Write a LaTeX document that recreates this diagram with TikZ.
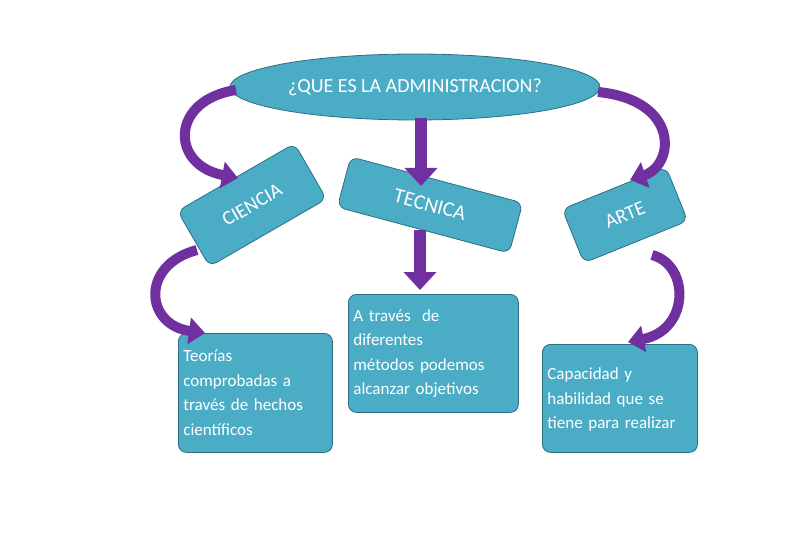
\documentclass[tikz,border=0pt]{standalone}
\usepackage{fontspec}
\setmainfont{Carlito}
\usetikzlibrary{arrows.meta,shapes.geometric}
\definecolor{teal1}{RGB}{75,172,198}
\definecolor{tealb}{RGB}{45,110,130}
\definecolor{purp}{RGB}{112,48,160}
\begin{document}
\begin{tikzpicture}[x=1pt,y=-1pt,
  box/.style={draw=tealb,fill=teal1,line width=0.8pt,rounded corners=8pt,text=white,inner sep=5pt},
  tbox/.style={box,align=left,anchor=north west,font=\fontsize{17}{24.5}\selectfont},
  arr/.style={purp,line width=12pt,-{Triangle[width=32pt,length=18pt]}},
  carr/.style={purp,line width=10pt,-{Triangle[width=26pt,length=16pt]}}]
\useasboundingbox (0,0) rectangle (789,537);
\node[ellipse,draw=tealb,fill=teal1,line width=0.8pt,minimum width=370,minimum height=66,text=white,font=\fontsize{20}{22}\selectfont] (q) at (415,87) {¿QUE ES LA ADMINISTRACION?};
\node[box,rotate=30,minimum width=135,minimum height=64,font=\fontsize{20}{22}\selectfont] (c) at (252,205) {CIENCIA};
\node[box,rotate=-15,minimum width=178,minimum height=52,font=\fontsize{21}{22}\selectfont] (t) at (430,205) {TECNICA};
\node[box,rotate=22,minimum width=112,minimum height=58,font=\fontsize{20}{22}\selectfont] (a) at (625,215) {ARTE};
\node[tbox,minimum width=154,minimum height=119,text width=144] (b1) at (178,333) {Teorías\\comprobadas a\\través de hechos\\científicos};
\node[tbox,minimum width=170,minimum height=118,text width=160] (b2) at (348,294) {A través\ \ de\\diferentes\\métodos podemos\\alcanzar objetivos};
\node[tbox,minimum width=155,minimum height=108,text width=145] (b3) at (542,344) {\\[-10pt]Capacidad y\\habilidad que se\\tiene para realizar};
\coordinate (l1) at (236,90); \coordinate (l1e) at (238,178);
\coordinate (r1) at (598,92); \coordinate (r1e) at (630,180);
\coordinate (d1) at (421,118); \coordinate (d1e) at (421,186);
\coordinate (d2) at (420,230); \coordinate (d2e) at (420,290);
\coordinate (l2) at (197,250); \coordinate (l2e) at (205,333);
\coordinate (r2) at (652,255); \coordinate (r2e) at (628,342);
\draw[carr] (l1) .. controls (170,100) and (170,165) .. (l1e);
\draw[carr] (r1) .. controls (680,100) and (675,165) .. (r1e);
\draw[arr] (d1) -- (d1e);
\draw[arr] (d2) -- (d2e);
\draw[carr] (l2) .. controls (140,265) and (145,325) .. (l2e);
\draw[carr] (r2) .. controls (690,265) and (690,330) .. (r2e);
\end{tikzpicture}
\end{document}
